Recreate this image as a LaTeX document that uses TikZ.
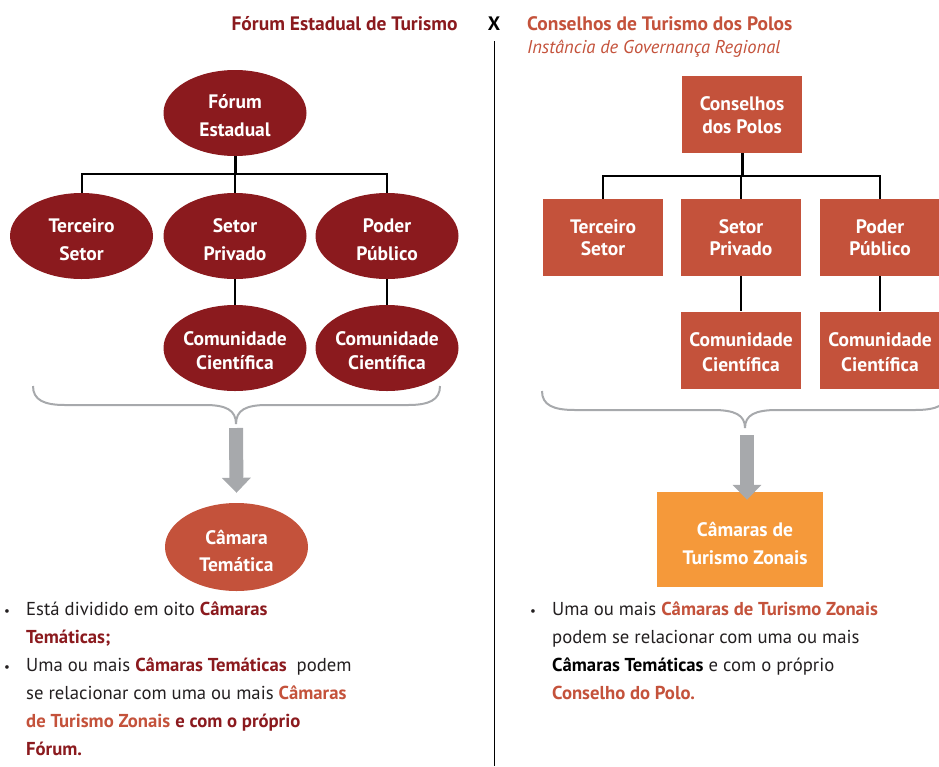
\documentclass[tikz,border=0pt]{standalone}
\usepackage{fontspec}
\setmainfont{PT Sans}
\usetikzlibrary{shapes.geometric,arrows.meta,calc}
\definecolor{dred}{RGB}{139,26,30}
\definecolor{ored}{RGB}{196,82,59}
\definecolor{zorange}{RGB}{245,153,58}
\definecolor{bgray}{RGB}{167,169,172}
\definecolor{ink}{RGB}{35,31,32}
\tikzset{
  ell/.style={ellipse, fill=dred, minimum width=143pt, minimum height=86pt, inner sep=0pt},
  box/.style={rectangle, fill=ored, minimum width=120pt, minimum height=77pt, inner sep=0pt},
  lbl/.style={text=white, align=center, inner sep=0pt, font=\fontsize{19.5}{#1}\selectfont\bfseries},
  lbl/.default=28,
  conn/.style={draw=black, line width=2pt},
  stem/.style={draw=black, line width=3pt},
  brace/.style={draw=bgray, line width=2pt},
  bigarrow/.style={draw=bgray, line width=14pt, -{Triangle[width=28pt, length=15pt]}},
  body/.style={anchor=base west, inner sep=0pt, text=ink, font=\fontsize{18.7}{22}\selectfont},
  dot/.style={anchor=base, inner sep=0pt, text=ink, font=\fontsize{13}{14}\selectfont},
  head/.style={inner sep=0pt, font=\fontsize{19.5}{22}\selectfont\bfseries},
}
\newcommand{\dr}[1]{\textbf{\color{dred}#1}}
\newcommand{\orr}[1]{\textbf{\color{ored}#1}}
\begin{document}
\begin{tikzpicture}[x=1pt, y=-1pt]
\useasboundingbox (0,0) rectangle (939,766);

% headings and divider
\node[head, text=dred] (tleft) at (344.5,24) {Fórum Estadual de Turismo};
\node[head, text=black] (vs) at (494,24) {X};
\node[head, text=ored, anchor=west] (tright) at (527,24) {Conselhos de Turismo dos Polos};
\node[text=ored, font=\fontsize{18.5}{22}\selectfont\itshape, anchor=west, inner sep=0pt] (tsub) at (527,49) {Instância de Governança Regional};
\coordinate (divtop) at (494,41);
\coordinate (divbot) at (494,766);
\draw[black, line width=1pt] (divtop) -- (divbot);

% ---------- left: Fórum Estadual ----------
\node[ell] (forum) at (235,113) {};
\node[lbl] (forumt) at ($(forum)+(0,3)$) {Fórum\\Estadual};
\node[ell] (terc) at (81.5,236) {};
\node[lbl] (terct) at ($(terc)+(0,3.5)$) {Terceiro\\Setor};
\node[ell] (priv) at (235,236) {};
\node[lbl] (privt) at ($(priv)+(0,3.5)$) {Setor\\Privado};
\node[ell] (pub) at (387,236) {};
\node[lbl] (pubt) at ($(pub)+(0,3.5)$) {Poder\\Público};
\node[ell] (cienA) at (235,348) {};
\node[lbl=24] (cienAt) at ($(cienA)+(0,3)$) {Comunidade\\Científica};
\node[ell] (cienB) at (387,348) {};
\node[lbl=24] (cienBt) at ($(cienB)+(0,3)$) {Comunidade\\Científica};

\draw[stem] (forum.south) -- (forum.south |- 0,174);
\draw[conn] (terc.north) -- ++(0,-19) -| (pub.north);
\draw[conn] (priv.north) -- ++(0,-19);
\draw[conn] (priv.south) -- (cienA.north);
\draw[conn] (pub.south) -- (cienB.north);

\coordinate (tipL) at (236,424);
\draw[brace] (33,386) .. controls (33,400) and (44,405) .. (65,405) -- (205,405)
  .. controls (226,405) and (236,410) .. (tipL);
\draw[brace] (440,386) .. controls (440,400) and (429,405) .. (408,405) -- (267,405)
  .. controls (246,405) and (236,410) .. (tipL);

\node[ell, fill=ored, minimum height=88pt] (camt) at (236.5,547) {};
\node[lbl=27] (camtt) at ($(camt)+(0,3.5)$) {Câmara\\Temática};
\draw[bigarrow] ($(tipL)+(0,4)$) -- ($(camt.north)+(0,-10)$);

% ---------- right: Conselhos dos Polos ----------
\node[box] (cons) at (742,114.5) {};
\node[lbl=23] (const) at ($(cons)+(0,0.5)$) {Conselhos\\dos Polos};
\node[box] (rterc) at (603,237.5) {};
\node[lbl=22] (rterct) at (rterc) {Terceiro\\Setor};
\node[box] (rpriv) at (741,237.5) {};
\node[lbl=22] (rprivt) at (rpriv) {Setor\\Privado};
\node[box] (rpub) at (880,237.5) {};
\node[lbl=22] (rpubt) at (rpub) {Poder\\Público};
\node[box] (rcienA) at (741,350) {};
\node[lbl=25] (rcienAt) at ($(rcienA)+(0,2)$) {Comunidade\\Científica};
\node[box] (rcienB) at (880,350) {};
\node[lbl=25] (rcienBt) at ($(rcienB)+(0,2)$) {Comunidade\\Científica};

\draw[stem] (cons.south) -- (cons.south |- 0,176);
\draw[conn] (rterc.north) -- ++(0,-23) -| (rpub.north);
\draw[conn] (rpriv.north) -- ++(0,-23);
\draw[conn] (rpriv.south) -- (rcienA.north);
\draw[conn] (rpub.south) -- (rcienB.north);

\coordinate (tipR) at (745,428);
\draw[brace] (542,391) .. controls (542,405) and (553,410) .. (575,410) -- (713,410)
  .. controls (735,410) and (745,415) .. (tipR);
\draw[brace] (948,391) .. controls (948,405) and (937,410) .. (915,410) -- (777,410)
  .. controls (755,410) and (745,415) .. (tipR);

\node[rectangle, fill=zorange, minimum width=166pt, minimum height=95pt, inner sep=0pt] (zon) at (740,539.5) {};
\node[lbl=28] (zont) at (745,543) {Câmaras de\\Turismo Zonais};
\draw[bigarrow] ($(tipR)+(2,7)$) -- ($(zon.north)+(7,8)$);

% ---------- notes ----------
\node[dot] (bl1) at (7,615) {•};
\node[body] (l1) at (26,615) {Está dividido em oito \dr{Câmaras}};
\node[body] (l2) at (26,643) {\dr{Temáticas;}};
\node[dot] (bl2) at (7,671) {•};
\node[body] (l3) at (26,671) {Uma ou mais \dr{Câmaras Temáticas}\ \ podem};
\node[body] (l4) at (26,699) {se relacionar com uma ou mais \orr{Câmaras}};
\node[body] (l5) at (26,727) {\orr{de Turismo Zonais} \dr{e com o próprio}};
\node[body] (l6) at (26,755) {\dr{Fórum.}};

\node[dot] (br1) at (533,615) {•};
\node[body] (r1) at (552,615) {Uma ou mais \orr{Câmaras de Turismo Zonais}};
\node[body] (r2) at (552,643) {podem se relacionar com uma ou mais};
\node[body] (r3) at (552,671) {\textbf{\color{black}Câmaras Temáticas} e com o próprio};
\node[body] (r4) at (552,699) {\orr{Conselho do Polo.}};
\end{tikzpicture}
\end{document}
